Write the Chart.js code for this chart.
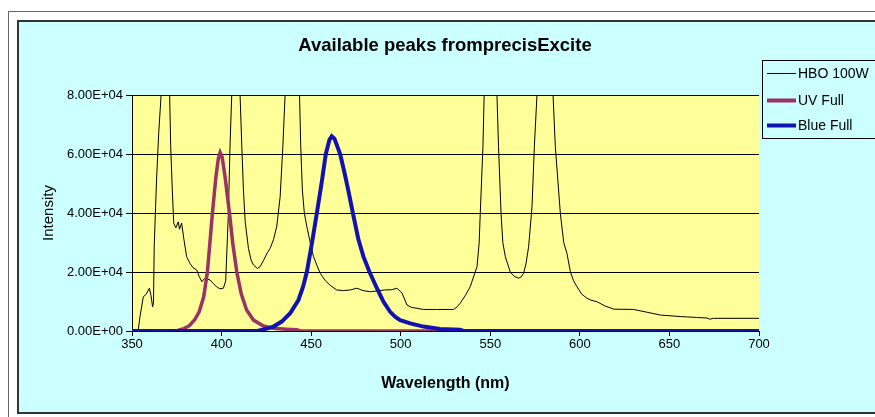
<!DOCTYPE html>
<html>
<head>
<meta charset="utf-8">
<script src="https://cdn.jsdelivr.net/npm/chart.js@4/dist/chart.umd.min.js"></script>
<style>
  html, body { margin: 0; padding: 0; background: #ffffff; }
  canvas { display: block; }
</style>
</head>
<body>
<canvas id="spectrum" width="875" height="417"></canvas>
<script>
// 数据：波长 (nm) 与强度
const hboNm = [353.4, 354.5, 356.3, 358, 359.7, 360.6, 361.5, 362.0, 362.4, 363.7, 364.9, 366.3, 368.6, 371.0, 371.6, 372.5, 373.3, 374.5, 375.8, 376.5, 377.7, 379, 380.5, 382.4, 384, 386.1, 387.5, 389, 390.5, 393.6, 395.5, 397.3, 399, 401, 402.3, 403.8, 404.7, 405.7, 408, 410.3, 411.3, 412.2, 413.2, 415, 416.5, 417.8, 420, 421.5, 423.5, 425.5, 427.1, 429, 430.8, 432.7, 434.2, 435.5, 439.5, 443.5, 444.2, 445.1, 446.2, 447.6, 449.5, 451.3, 455, 458, 460.6, 464.3, 468, 471.8, 475.5, 479, 483, 487, 491, 495, 497.9, 500.7, 503.5, 506, 509, 512.7, 520, 529.5, 531.5, 533.2, 536, 538.8, 541, 542.6, 543.8, 544.4, 545.9, 546.6, 550.1, 553.7, 554.6, 556, 557, 558.4, 561.2, 563.5, 565.8, 567.2, 568.6, 570, 571.4, 573.3, 574.6, 576.1, 580.5, 585, 586.3, 589.1, 591, 592.8, 594.7, 596.5, 598.4, 601, 604, 606, 609.6, 614, 618.9, 630, 638, 645, 656, 665, 671, 672.5, 674.6, 700];
const hboVal = [0, 5000, 11600, 12500, 14500, 12000, 8200, 9500, 28600, 51200, 67000, 80500, 200000, 80500, 62500, 47800, 36500, 35000, 37000, 34500, 36600, 31000, 25200, 22900, 21500, 20700, 18500, 16700, 17800, 17300, 16000, 15000, 14300, 14500, 17000, 39900, 62500, 80500, 200000, 80500, 62500, 47800, 37000, 28000, 24000, 22400, 21200, 21800, 24000, 26500, 28000, 31000, 35400, 45500, 62500, 80500, 200000, 80500, 62500, 47800, 40000, 35400, 30000, 25200, 19600, 17000, 15500, 13900, 13700, 13900, 14500, 13700, 13300, 13600, 13900, 14000, 14500, 12900, 8800, 8000, 7700, 7300, 7300, 7300, 8200, 9400, 12000, 15000, 19000, 21800, 30000, 39900, 62500, 80500, 200000, 80500, 62500, 39900, 30000, 25200, 19900, 18500, 17900, 18300, 19600, 23000, 28600, 42100, 62500, 80500, 200000, 80500, 62500, 39900, 30000, 26300, 20100, 17000, 15000, 12500, 11100, 10500, 9900, 8500, 7400, 7300, 6300, 5400, 4900, 4600, 4400, 4000, 4300, 4300];

const uvNm = [350, 375, 376, 379, 382, 385, 387.5, 390, 392.1, 394.9, 396.8, 398.2, 399.2, 400.3, 402, 404.4, 406.3, 408.5, 411, 414, 417.8, 423.4, 429, 436, 442, 444, 700];
const uvVal = [0, 0, 300, 800, 1800, 3800, 6500, 11500, 20000, 40000, 52000, 58500, 60500, 59000, 52000, 40000, 29500, 20000, 12500, 7100, 3700, 1700, 900, 600, 400, 0, 0];

const blueNm = [350, 420, 423.4, 429, 433.6, 438.3, 442.9, 445.5, 447.6, 450.5, 453.2, 455.8, 458.2, 460.2, 461.5, 463, 466.2, 468.5, 470.8, 473.3, 476.4, 479.2, 482.6, 486.7, 490.4, 494.1, 497, 499.7, 505.3, 512.7, 522, 533.2, 535, 700];
const blueVal = [0, 0, 500, 1500, 3200, 6000, 10500, 15000, 20000, 30000, 40000, 50000, 60000, 64800, 66000, 65200, 60000, 54000, 47500, 40000, 31000, 25200, 20000, 14500, 9900, 6500, 4800, 3700, 2600, 1500, 700, 400, 0, 0];

const seriesNames = ['HBO 100W', 'UV Full', 'Blue Full'];
const seriesColors = ['#000000', '#993366', '#1212B0'];
const xTicks = [350, 400, 450, 500, 550, 600, 650, 700];
const yTicks = [0, 20000, 40000, 60000, 80000];

const chartTitle = 'Available peaks fromprecisExcite';
const FONT = '"Liberation Sans", Arial, sans-serif';

function toPoints(xs, ys) {
  return xs.map((x, i) => ({ x: x, y: ys[i] }));
}

function sciLabel(v) {
  if (v === 0) return '0.00E+00';
  const e = Math.floor(Math.log10(v));
  const m = v / Math.pow(10, e);
  return m.toFixed(2) + 'E+' + String(e).padStart(2, '0');
}

// 背景、边框、标题、图例
const framePlugin = {
  id: 'frame',
  beforeDraw(chart) {
    const ctx = chart.ctx;
    const a = chart.chartArea;
    ctx.save();
    ctx.fillStyle = '#ffffff';
    ctx.fillRect(0, 0, chart.width, chart.height);
    ctx.strokeStyle = '#666666';
    ctx.lineWidth = 1;
    ctx.strokeRect(8.5, 11.5, 1000, 1000);
    ctx.fillStyle = '#CCFFFF';
    ctx.fillRect(18, 21, 900, 392);
    ctx.strokeStyle = '#333333';
    ctx.lineWidth = 2;
    ctx.strokeRect(18, 21, 900, 392);
    ctx.fillStyle = '#FFFF99';
    ctx.fillRect(a.left, a.top, a.right - a.left, a.bottom - a.top);

    ctx.fillStyle = '#000000';
    ctx.font = 'bold 18.5px ' + FONT;
    ctx.textAlign = 'center';
    ctx.textBaseline = 'middle';
    ctx.fillText(chartTitle, 445, 46);
    ctx.restore();
  },
  afterDraw(chart) {
    const ctx = chart.ctx;
    ctx.save();
    ctx.fillStyle = '#CCFFFF';
    ctx.fillRect(762, 60, 200, 78);
    ctx.strokeStyle = '#000000';
    ctx.lineWidth = 1;
    ctx.strokeRect(762.5, 60.5, 200, 78);
    const rows = [73, 100, 125];
    const widths = [1, 4, 4];
    ctx.font = '14px ' + FONT;
    ctx.textAlign = 'left';
    ctx.textBaseline = 'middle';
    seriesNames.forEach((name, i) => {
      ctx.strokeStyle = seriesColors[i];
      ctx.lineWidth = widths[i];
      ctx.beginPath();
      ctx.moveTo(767, rows[i] + 0.5);
      ctx.lineTo(796, rows[i] + 0.5);
      ctx.stroke();
      ctx.fillStyle = '#000000';
      ctx.fillText(name, 798, rows[i] + 1);
    });
    ctx.restore();
  }
};

const ctx = document.getElementById('spectrum').getContext('2d');
new Chart(ctx, {
  type: 'line',
  data: {
    datasets: [
      {
        label: seriesNames[0],
        data: toPoints(hboNm, hboVal),
        borderColor: seriesColors[0],
        borderWidth: 1,
        pointRadius: 0,
        tension: 0,
        order: 3
      },
      {
        label: seriesNames[1],
        data: toPoints(uvNm, uvVal),
        borderColor: seriesColors[1],
        borderWidth: 3.5,
        pointRadius: 0,
        tension: 0,
        order: 2
      },
      {
        label: seriesNames[2],
        data: toPoints(blueNm, blueVal),
        borderColor: seriesColors[2],
        borderWidth: 4,
        pointRadius: 0,
        tension: 0,
        order: 1
      }
    ]
  },
  options: {
    responsive: false,
    animation: false,
    layout: { padding: { top: 95, right: 116, bottom: 0, left: 0 } },
    plugins: {
      legend: { display: false },
      title: { display: false },
      tooltip: { enabled: false }
    },
    scales: {
      x: {
        type: 'linear',
        min: 350,
        max: 700,
        afterFit: (scale) => { scale.height = 86; },
        afterBuildTicks: (scale) => { scale.ticks = xTicks.map(v => ({ value: v })); },
        ticks: {
          color: '#000000',
          font: { family: FONT, size: 13 },
          padding: 1,
          maxRotation: 0
        },
        grid: { drawOnChartArea: false, drawTicks: true, tickLength: 5, color: '#000000' },
        border: { display: true, color: '#000000', width: 1 },
        title: {
          display: true,
          text: 'Wavelength (nm)',
          color: '#000000',
          font: { family: FONT, size: 16, weight: 'bold' },
          padding: { top: 0, bottom: 24 }
        }
      },
      y: {
        min: 0,
        max: 80000,
        afterFit: (scale) => { scale.width = 132; },
        afterBuildTicks: (scale) => { scale.ticks = yTicks.map(v => ({ value: v })); },
        ticks: {
          color: '#000000',
          font: { family: FONT, size: 13 },
          padding: 3,
          callback: (v) => sciLabel(v)
        },
        grid: { color: '#000000', tickLength: 6, drawTicks: true },
        border: { display: true, color: '#000000', width: 1 },
        title: {
          display: true,
          text: 'Intensity',
          color: '#000000',
          font: { family: FONT, size: 15 },
          padding: { top: 40, bottom: 0 }
        }
      }
    }
  },
  plugins: [framePlugin]
});
</script>
</body>
</html>
